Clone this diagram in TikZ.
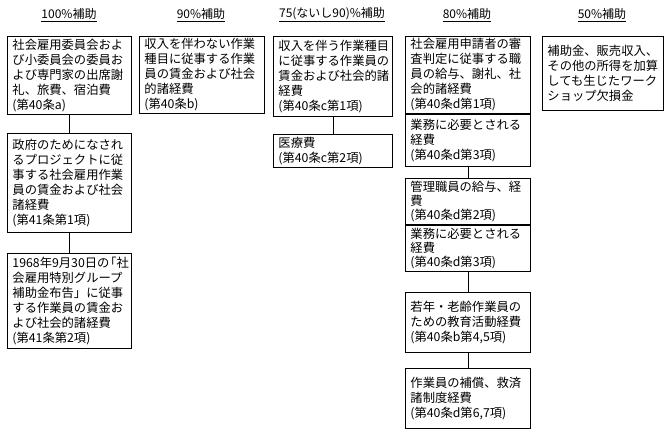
\documentclass[tikz,border=0pt]{standalone}
\usepackage{fontspec}
\setmainfont{Noto Sans CJK JP}
\begin{document}
\begin{tikzpicture}[x=1pt,y=-1pt,
  box/.style={draw, line width=0.9pt, anchor=north west, inner xsep=5pt, inner ysep=2pt, align=left,
    font=\fontsize{12.3}{15}\selectfont},
  tight/.style={inner ysep=0pt, font=\fontsize{12.3}{14}\selectfont},
  hd/.style={font=\fontsize{12}{14}\selectfont, inner sep=1pt},
  conn/.style={line width=0.9pt}]
\useasboundingbox (0,0) rectangle (670,432);
% headers
\node[hd] (h1) at (69,15) {\underline{100\%補助}};
\node[hd] (h2) at (201,15) {\underline{90\%補助}};
\node[hd] (h3) at (332,15) {\underline{75(ないし90)\%補助}};
\node[hd] (h4) at (467,15) {\underline{80\%補助}};
\node[hd] (h5) at (602,15) {\underline{50\%補助}};
% column 1
\node[box, text width=114pt, minimum height=78pt] (A1) at (7,36)
  {社会雇用委員会およ\\び小委員会の委員お\\よび専門家の出席謝\\礼、旅費、宿泊費\\(第40条a)};
\node[box, text width=114pt, minimum height=99pt] (A2) at (7,133)
  {政府のためになされ\\るプロジェクトに従\\事する社会雇用作業\\員の賃金および社会\\諸経費\\(第41条第1項)};
\node[box, text width=114pt, minimum height=95pt] (A3) at (7,253)
  {1968年9月30日の\kern-5pt「社\\会雇用特別グループ\\補助金布告」に従事\\する作業員の賃金お\\よび社会的諸経費\\(第41条第2項)};
% column 2
\node[box, text width=115pt, minimum height=76pt] (B1) at (139,36)
  {収入を伴わない作業\\種目に従事する作業\\員の賃金および社会\\的諸経費\\(第40条b)};
% column 3
\node[box, text width=109pt, minimum height=80pt] (C1) at (273,36)
  {収入を伴う作業種目\\に従事する作業員の\\賃金および社会的諸\\経費\\(第40条c第1項)};
\node[box, text width=109pt, minimum height=33pt] (C2) at (273,134)
  {医療費\\(第40条c第2項)};
% column 4
\node[box, text width=115pt, minimum height=77pt] (D1) at (405,36)
  {社会雇用申請者の審\\査判定に従事する職\\員の給与、謝礼、社\\会的諸経費\\(第40条d第1項)};
\node[box, text width=115pt, minimum height=52pt] (D2) at (D1.south west)
  {業務に必要とされる\\経費\\(第40条d第3項)};
\node[box, tight, text width=115pt, minimum height=46pt] (D3) at (405,178)
  {管理職員の給与、経\\費\\(第40条d第2項)};
\node[box, tight, text width=115pt, minimum height=46pt] (D4) at (D3.south west)
  {業務に必要とされる\\経費\\(第40条d第3項)};
\node[box, text width=115pt, minimum height=60pt] (D5) at (405,292)
  {若年・老齢作業員の\\ための教育活動経費\\(第40条b第4,5項)};
\node[box, text width=115pt, minimum height=60pt] (D6) at (405,368)
  {作業員の補償、救済\\諸制度経費\\(第40条d第6,7項)};
% column 5
\node[box, text width=111pt, minimum height=74pt] (E1) at (542,36)
  {補助金、販売収入、\\その他の所得を加算\\しても生じたワーク\\ショップ欠損金};
% connectors
\draw[conn] (A1.south) -- (A2.north);
\draw[conn] (A2.south) -- (A3.north);
\draw[conn] (C1.south) -- (C2.north);
\draw[conn] (D2.south) -- (D3.north);
\draw[conn] (D4.south) -- (D5.north);
\draw[conn] (D5.south) -- (D6.north);
\end{tikzpicture}
\end{document}
